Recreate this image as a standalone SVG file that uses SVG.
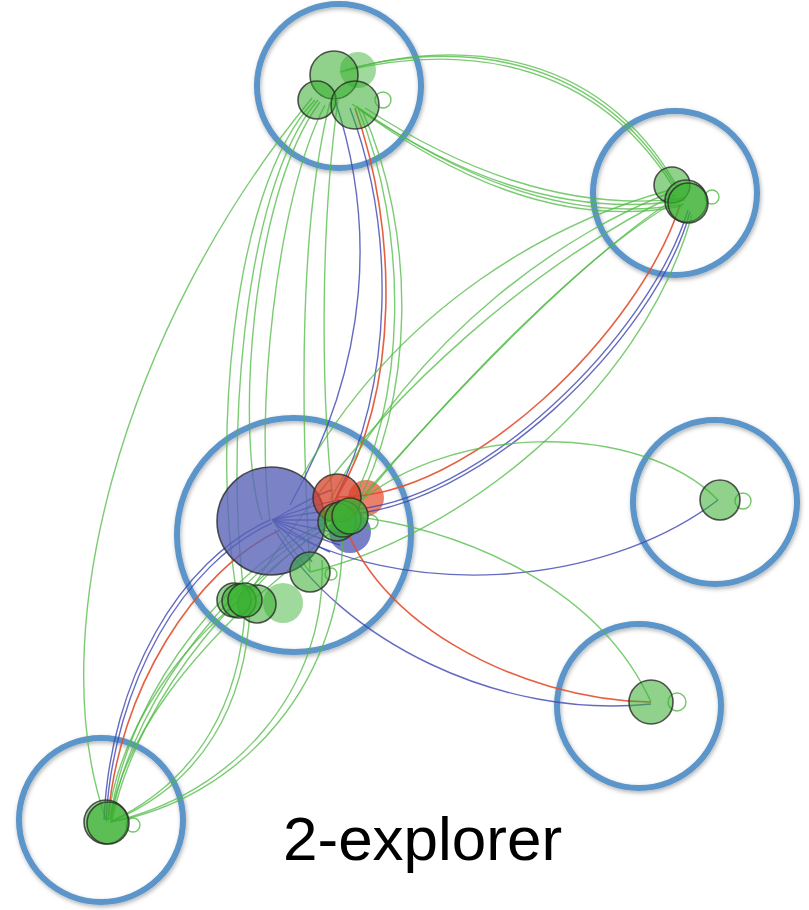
<svg xmlns="http://www.w3.org/2000/svg" width="809" height="910" viewBox="0 0 809 910">
  <defs>
    <filter id="ringShadow" x="-20%" y="-20%" width="140%" height="140%">
      <feDropShadow dx="1" dy="2" stdDeviation="2" flood-color="#000" flood-opacity="0.3"/>
    </filter>
    <filter id="soft" x="-10%" y="-10%" width="120%" height="120%">
      <feGaussianBlur stdDeviation="0.4"/>
    </filter>
  </defs>
  <style>
    .ring { fill: none; stroke: #5b95c9; stroke-width: 6; filter: url(#ringShadow); }
    .g { fill: none; stroke: #4fb944; stroke-width: 1.4; stroke-opacity: 0.75; }
    .b { fill: none; stroke: #3e46b0; stroke-width: 1.4; stroke-opacity: 0.8; }
    .r { fill: none; stroke: #e2502e; stroke-width: 1.6; stroke-opacity: 0.9; }
    .loop { fill: none; stroke: #4fb944; stroke-width: 1.4; stroke-opacity: 0.8; }
    .ng { fill: #35ad2c; fill-opacity: 0.55; stroke: #2b2b2b; stroke-width: 1.6; stroke-opacity: 0.8; }
    .ngf { fill: #3bb334; fill-opacity: 0.75; stroke: #2b2b2b; stroke-width: 1.6; stroke-opacity: 0.8; }
    .ghost-g { fill: #3fb33a; fill-opacity: 0.5; }
    .nb { fill: #5a64b8; fill-opacity: 0.8; stroke: #2b2b2b; stroke-width: 1.6; stroke-opacity: 0.8; }
    .ghost-b { fill: #4a54b4; fill-opacity: 0.75; }
    .nr { fill: #d8402a; fill-opacity: 0.75; stroke: #2b2b2b; stroke-width: 1.6; stroke-opacity: 0.8; }
    .ghost-r { fill: #e4553a; fill-opacity: 0.75; }
    .label { font-family: "Liberation Sans", Arial, sans-serif; font-size: 62px; fill: #000; }
  </style>

  <rect width="809" height="910" fill="#fff"/>

  <!-- cluster rings -->
  <g id="clusters">
    <circle id="ring-top" class="ring" cx="339" cy="86" r="82"/>
    <circle id="ring-topright" class="ring" cx="675" cy="193" r="82"/>
    <circle id="ring-center" class="ring" cx="294" cy="535" r="117"/>
    <circle id="ring-bottomleft" class="ring" cx="101" cy="820" r="82"/>
    <circle id="ring-right" class="ring" cx="715" cy="502" r="82"/>
    <circle id="ring-lowerright" class="ring" cx="639" cy="706" r="82"/>
  </g>

  <!-- ghost blobs under the nodes -->
  <g id="ghosts">
    <circle class="ghost-g" cx="358" cy="70" r="18"/>
    <circle class="ghost-b" cx="350" cy="532" r="21"/>
    <circle class="ghost-r" cx="366" cy="498" r="18"/>
    <circle class="ghost-g" cx="283" cy="603" r="20"/>
  </g>

  <!-- connectors -->
  <g id="connectors" filter="url(#soft)">
    <!-- top -> bottom-left, wide arc -->
    <path class="g" d="M312,98 C120,330 40,640 107,822"/>

    <!-- top -> center, left bundle -->
    <path class="g" d="M315,100 C228,190 212,460 238,600"/>
    <path class="g" d="M318,100 C240,190 225,460 245,600"/>
    <path class="g" d="M320,102 C250,195 235,440 262,520"/>
    <path class="g" d="M325,105 C275,200 255,420 270,520"/>
    <path class="g" d="M330,102 C300,220 300,400 310,572"/>
    <path class="g" d="M338,100 C320,230 320,400 335,520"/>

    <!-- top -> center, right bundle -->
    <path class="b" d="M335,100 C375,220 372,360 290,505"/>
    <path class="b" d="M350,108 C395,230 395,380 335,500"/>
    <path class="r" d="M355,108 C398,230 400,390 337,497"/>
    <path class="g" d="M358,108 C408,230 410,400 345,517"/>
    <path class="g" d="M362,110 C416,230 418,400 350,517"/>

    <!-- top -> top-right -->
    <path class="g" d="M340,72 C430,50 580,40 672,185"/>
    <path class="g" d="M345,70 C435,46 585,38 675,186"/>
    <path class="g" d="M350,69 C440,44 592,36 678,188"/>
    <path class="g" d="M360,110 C450,170 560,220 685,200"/>
    <path class="g" d="M356,106 C450,172 565,226 684,204"/>
    <path class="g" d="M352,104 C446,174 560,230 682,206"/>
    <path class="g" d="M365,108 C455,166 565,214 686,198"/>

    <!-- top-right -> center -->
    <path class="g" d="M670,190 C560,220 400,300 300,480"/>
    <path class="g" d="M672,192 C570,230 420,330 330,500"/>
    <path class="g" d="M675,195 C560,250 380,380 245,600"/>
    <path class="g" d="M678,200 C590,250 460,380 345,520"/>
    <path class="g" d="M676,198 C585,255 455,390 340,522"/>

    <!-- center -> top-right, long curves -->
    <path class="r" d="M337,497 C470,500 640,330 680,205"/>
    <path class="b" d="M345,510 C480,505 650,335 688,210"/>
    <path class="b" d="M340,515 C478,510 655,340 690,212"/>
    <path class="g" d="M310,572 C450,540 640,400 692,215"/>

    <!-- center -> right -->
    <path class="g" d="M345,515 C440,420 640,420 718,500"/>
    <path class="b" d="M275,525 C400,600 600,590 718,500"/>

    <!-- center -> lower-right -->
    <path class="g" d="M345,515 C470,530 600,590 651,702"/>
    <path class="r" d="M337,497 C360,620 520,700 651,702"/>
    <path class="b" d="M275,530 C340,640 500,720 651,704"/>

    <!-- center -> bottom-left -->
    <path class="b" d="M270,520 C180,560 110,680 104,820"/>
    <path class="b" d="M272,523 C184,563 114,682 106,820"/>
    <path class="r" d="M280,530 C195,570 118,690 108,820"/>
    <path class="g" d="M240,600 C190,640 120,720 108,820"/>
    <path class="g" d="M250,602 C200,650 125,730 110,820"/>
    <path class="g" d="M330,520 C240,560 130,680 110,820"/>
    <path class="g" d="M340,520 C250,570 140,690 112,820"/>
    <path class="g" d="M335,518 C245,566 135,686 111,820"/>
    <path class="g" d="M245,610 C240,700 200,780 110,822"/>
    <path class="g" d="M250,608 C246,702 204,784 110,822"/>
    <path class="g" d="M342,522 C350,680 240,800 110,822"/>
    <path class="g" d="M322,560 C328,690 232,796 110,822"/>

    <!-- fan inside the center cluster -->
    <path class="b" d="M272,520 C300,505 315,495 332,490"/>
    <path class="b" d="M272,520 C300,510 320,503 340,500"/>
    <path class="b" d="M272,520 C302,514 325,510 345,510"/>
    <path class="b" d="M272,520 C305,520 330,520 350,520"/>
    <path class="b" d="M272,520 C305,526 330,532 348,535"/>
    <path class="b" d="M272,520 C300,530 322,540 340,545"/>
    <path class="b" d="M272,520 C296,534 315,546 330,552"/>
    <path class="b" d="M272,520 C292,538 306,552 312,562"/>
    <path class="g" d="M272,520 C290,545 300,560 310,572"/>
    <path class="g" d="M245,600 C270,570 300,540 337,521"/>
    <path class="g" d="M250,602 C285,575 315,545 348,517"/>

    <!-- self loops -->
    <circle class="loop" cx="383" cy="100" r="8"/>
    <circle class="loop" cx="712" cy="197" r="7"/>
    <circle class="loop" cx="743" cy="501" r="8"/>
    <circle class="loop" cx="677" cy="702" r="9"/>
    <circle class="loop" cx="133" cy="825" r="7"/>
    <circle class="loop" cx="371" cy="522" r="7"/>
    <circle class="loop" cx="331" cy="574" r="6"/>
  </g>

  <!-- nodes -->
  <g id="node-top">
    <circle class="ng" cx="334" cy="75" r="24"/>
    <circle class="ng" cx="317" cy="100" r="19"/>
    <circle class="ng" cx="355" cy="105" r="24"/>
  </g>
  <g id="node-topright">
    <circle class="ng" cx="672" cy="185" r="18"/>
    <circle class="ng" cx="686" cy="201" r="21"/>
    <circle class="ng" cx="688" cy="203" r="20"/>
  </g>
  <g id="node-center-blue">
    <circle class="nb" cx="271" cy="521" r="54"/>
  </g>
  <g id="node-center-red">
    <circle class="nr" cx="337" cy="498" r="24"/>
  </g>
  <g id="node-center-green">
    <circle class="ng" cx="337" cy="522" r="19"/>
    <circle class="ng" cx="343" cy="519" r="18"/>
    <circle class="ngf" cx="350" cy="516" r="18"/>
  </g>
  <g id="node-center-mid">
    <circle class="ng" cx="310" cy="572" r="20"/>
  </g>
  <g id="node-center-lowerleft">
    <circle class="ng" cx="257" cy="604" r="19"/>
    <circle class="ng" cx="234" cy="600" r="17"/>
    <circle class="ng" cx="239" cy="601" r="17"/>
    <circle class="ngf" cx="245" cy="600" r="17"/>
  </g>
  <g id="node-bottomleft">
    <circle class="ng" cx="106" cy="822" r="22"/>
    <circle class="ng" cx="108" cy="823" r="21"/>
  </g>
  <g id="node-right">
    <circle class="ng" cx="720" cy="500" r="20"/>
  </g>
  <g id="node-lowerright">
    <circle class="ng" cx="651" cy="702" r="22"/>
  </g>

  <text class="label" x="283" y="860">2-explorer</text>
</svg>
